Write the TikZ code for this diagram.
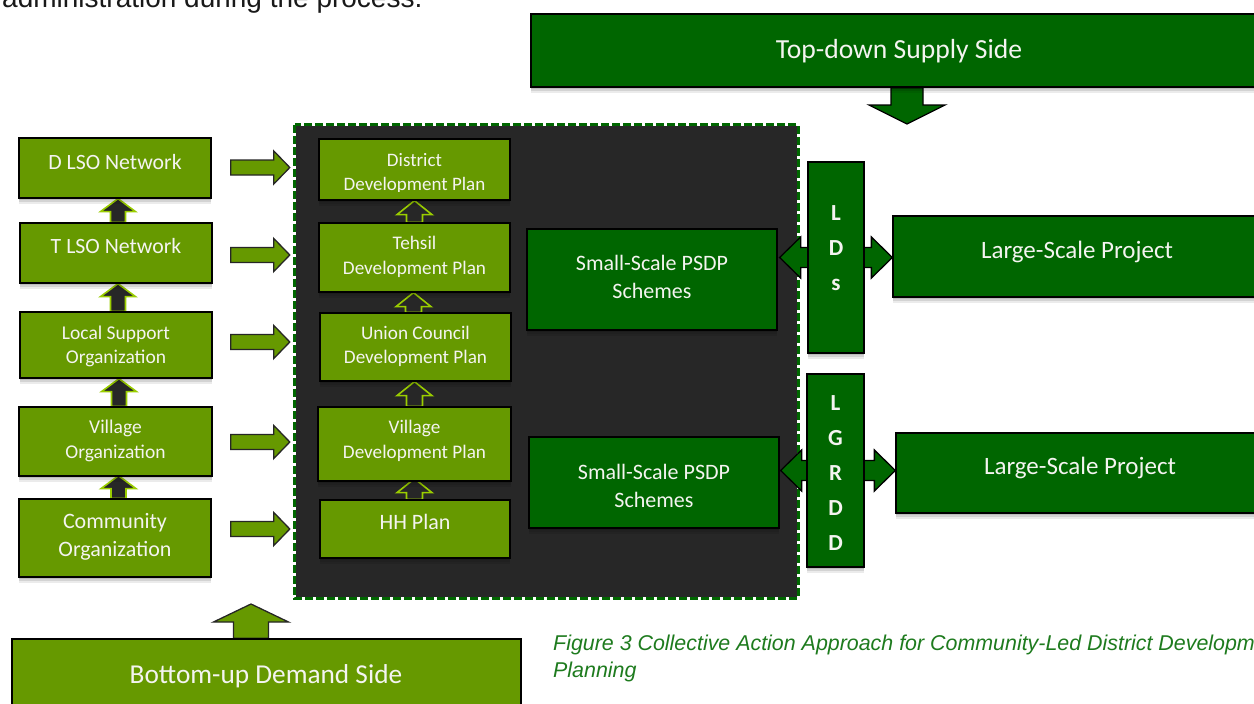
\documentclass[tikz,border=0pt]{standalone}
\usepackage{fontspec}
\setmainfont{Carlito}
\newfontfamily\arialf{Liberation Sans}
\usetikzlibrary{calc}
\definecolor{cOlv}{HTML}{669900}
\definecolor{cDkG}{HTML}{006600}
\definecolor{cPnl}{HTML}{272727}
\definecolor{cLim}{HTML}{9ACD00}
\definecolor{cCap}{HTML}{1E7B1E}
\definecolor{cTxt}{HTML}{F4F4F0}
\newcommand\fs[2]{\fontsize{#1}{#2}\selectfont}
% block arrows: #1 style, #2 base/tail, #3 tip, #4 half shaft, #5 half head, #6 head length
\newcommand\upblk[6]{\draw[#1] let \p1=(#2),\p2=(#3) in
  (\x2-#4pt,\y1) -- (\x2-#4pt,\y2-#6pt) -- (\x2-#5pt,\y2-#6pt) -- (\x2,\y2)
  -- (\x2+#5pt,\y2-#6pt) -- (\x2+#4pt,\y2-#6pt) -- (\x2+#4pt,\y1) -- cycle;}
\newcommand\dnblk[6]{\draw[#1] let \p1=(#2),\p2=(#3) in
  (\x2-#4pt,\y1) -- (\x2-#4pt,\y2+#6pt) -- (\x2-#5pt,\y2+#6pt) -- (\x2,\y2)
  -- (\x2+#5pt,\y2+#6pt) -- (\x2+#4pt,\y2+#6pt) -- (\x2+#4pt,\y1) -- cycle;}
\newcommand\rtblk[6]{\draw[#1] let \p1=(#2),\p2=(#3) in
  (\x1,\y2+#4pt) -- (\x2-#6pt,\y2+#4pt) -- (\x2-#6pt,\y2+#5pt) -- (\x2,\y2)
  -- (\x2-#6pt,\y2-#5pt) -- (\x2-#6pt,\y2-#4pt) -- (\x1,\y2-#4pt) -- cycle;}
\newcommand\dblblk[6]{\draw[#1] let \p1=(#2),\p2=(#3) in
  (\x1,\y1) -- (\x1+#6pt,\y1+#5pt) -- (\x1+#6pt,\y1+#4pt) -- (\x2-#6pt,\y1+#4pt)
  -- (\x2-#6pt,\y1+#5pt) -- (\x2,\y1) -- (\x2-#6pt,\y1-#5pt) -- (\x2-#6pt,\y1-#4pt)
  -- (\x1+#6pt,\y1-#4pt) -- (\x1+#6pt,\y1-#5pt) -- cycle;}
\pgfdeclarelayer{top}
\pgfsetlayers{main,top}
\begin{document}
\begin{tikzpicture}[x=1pt,y=-1pt,
  shd/.style={preaction={fill=black,fill opacity=0.10,draw=none,transform canvas={yshift=-2pt}},
              preaction={fill=black,fill opacity=0.10,draw=none,transform canvas={yshift=-4pt}},
              preaction={fill=black,fill opacity=0.08,draw=none,transform canvas={yshift=-6pt}}},
  obox/.style={draw=black,line width=1.3pt,fill=cOlv,inner sep=0pt,shd},
  gbox/.style={draw=black,line width=1.3pt,fill=cDkG,inner sep=0pt,shd},
  wt/.style={text=cTxt,align=center,inner sep=0pt},
  upa/.style={fill=cPnl,draw=cLim,line width=1.6pt},
  rta/.style={fill=cOlv,draw=black!85,line width=1.3pt},
  dga/.style={fill=cDkG,draw=black,line width=1.3pt},
]
\useasboundingbox (0,0) rectangle (1254,704);
\fill[white] (0,0) rectangle (1254,704);
\clip (0,0) rectangle (1254,704);

% dark panel
\node[fill=cPnl,minimum width=503,minimum height=473,inner sep=0pt] (panel) at (546.5,361.5) {};
\draw[white,line width=3pt] (panel.north west) rectangle (panel.south east);
\draw[cDkG,line width=3pt,dash pattern=on 8pt off 3pt] (panel.north west) rectangle (panel.south east);

% cut-off body text at top
\node[anchor=base west,inner sep=0pt,font=\arialf\fs{28}{32},text=black!90] (toptxt) at (2,7) {administration during the process.};

\begin{pgfonlayer}{top}
% left column
\node[obox,minimum width=192,minimum height=60] (dlso) at (115,168) {};
\node[obox,minimum width=192,minimum height=60] (tlso) at (116,253) {};
\node[obox,minimum width=192,minimum height=66] (lso) at (116,345) {};
\node[obox,minimum width=193,minimum height=69] (vo) at (115.5,441.5) {};
\node[obox,minimum width=192,minimum height=78] (co) at (115,538) {};
\node[wt,font=\fs{21.8}{26}] (dlsot) at (115,162) {D LSO Network};
\node[wt,font=\fs{21.8}{26}] (tlsot) at (116,246) {T LSO Network};
\node[wt,font=\fs{19.5}{24}] (lsot) at (116,346) {Local Support\\Organization};
\node[wt,font=\fs{19.5}{25}] (vot) at (115.5,440.5) {Village\\Organization};
\node[wt,font=\fs{22}{28}] (cot) at (115,537) {Community\\Organization};

% middle column
\node[obox,minimum width=191,minimum height=61] (ddp) at (414.5,169.5) {};
\node[obox,minimum width=191,minimum height=69] (tdp) at (414.5,257.5) {};
\node[obox,minimum width=191,minimum height=68] (ucdp) at (415.5,347) {};
\node[obox,minimum width=193,minimum height=74] (vdp) at (414.5,444) {};
\node[obox,minimum width=190,minimum height=58] (hh) at (415,529) {};
\begin{scope}
\clip (319,139) rectangle (510,191);
\node[wt,font=\fs{19}{23.5}] (ddpt) at (414.5,173.5) {District\\Development Plan};
\end{scope}
\node[wt,font=\fs{19.2}{25}] (tdpt) at (414.5,256.5) {Tehsil\\Development Plan};
\node[wt,font=\fs{19.2}{24}] (ucdpt) at (415.5,346) {Union Council\\Development Plan};
\node[wt,font=\fs{19.2}{25}] (vdpt) at (414.5,440.5) {Village\\Development Plan};
\node[wt,font=\fs{22}{26}] (hht) at (415,522) {HH Plan};

% right side
\node[gbox,minimum width=250,minimum height=101] (ss1) at (652,279.5) {};
\node[gbox,minimum width=250,minimum height=91] (ss2) at (654,482.5) {};
\node[wt,font=\fs{22}{28}] (ss1t) at (652,277) {Small-Scale PSDP\\Schemes};
\node[wt,font=\fs{22}{28}] (ss2t) at (654,485.5) {Small-Scale PSDP\\Schemes};
\node[gbox,minimum width=56,minimum height=191] (lds) at (836,257.5) {};
\node[gbox,minimum width=57,minimum height=193] (lgrdd) at (835.5,470.5) {};
\node[wt,font=\bfseries\fs{23}{35}] (ldst) at (836,248) {L\\D\\s};
\node[wt,font=\bfseries\fs{23}{35}] (lgrddt) at (835.5,473) {L\\G\\R\\D\\D};
\node[gbox,minimum width=369,minimum height=81] (lp1) at (1077.5,256.5) {};
\node[gbox,minimum width=366,minimum height=80] (lp2) at (1079,473) {};
\node[wt,font=\fs{25}{30}] (lp1t) at (1077,252) {Large-Scale Project};
\node[wt,font=\fs{25}{30}] (lp2t) at (1080,468) {Large-Scale Project};

% top and bottom banners
\node[gbox,minimum width=731,minimum height=73] (td) at (896.5,50.5) {};
\node[wt,font=\fs{27.6}{30}] (tdt) at (899,51) {Top-down Supply Side};
\node[obox,minimum width=509,minimum height=73] (bu) at (266.5,675.5) {};
\node[wt,font=\fs{27.3}{30}] (but) at (266,676) {Bottom-up Demand Side};
\end{pgfonlayer}
\coordinate (tdtip) at (907,124);
\coordinate (butip) at (251,604);

% caption
\node[anchor=base west,inner sep=0pt,text=cCap,font=\arialf\itshape\fs{21.4}{24}] (cap1) at (553,650) {Figure 3 Collective Action Approach for Community-Led District Developm};
\node[anchor=base west,inner sep=0pt,text=cCap,font=\arialf\itshape\fs{21.4}{24}] (cap2) at (553,677) {Planning};

% block arrows (behind boxes, above panel)
\upblk{upa}{tlso.north}{$(dlso.south)+(3,0)$}{7.5}{17.5}{13}
\upblk{upa}{lso.north}{$(tlso.south)+(2,0)$}{7.5}{17.5}{13}
\upblk{upa}{vo.north}{$(lso.south)+(3,0)$}{7.5}{17.5}{13}
\upblk{upa}{co.north}{$(vo.south)+(3,-1)$}{7.5}{17.5}{13}
\upblk{upa}{tdp.north}{ddp.south}{8}{17.5}{14}
\upblk{upa}{ucdp.north}{$(tdp.south)+(-1,0)$}{8}{17.5}{14}
\upblk{upa}{vdp.north}{$(ucdp.south)+(-1,0)$}{8}{17.5}{14}
\upblk{upa}{hh.north}{$(vdp.south)+(0,-3)$}{8}{17.5}{14}
\rtblk{rta}{$(dlso.east)+(19,0)$}{$(panel.west|-dlso.east)+(-5,-0.5)$}{7.5}{16.5}{16}
\rtblk{rta}{$(tlso.east)+(18,0)$}{$(panel.west|-tlso.east)+(-5,2)$}{7.5}{16.5}{16}
\rtblk{rta}{$(lso.east)+(18,0)$}{$(panel.west|-lso.east)+(-5,-3)$}{7.5}{16.5}{16}
\rtblk{rta}{$(vo.east)+(18,0)$}{$(panel.west|-vo.east)+(-5,0.5)$}{7.5}{16.5}{16}
\rtblk{rta}{$(co.east)+(19,0)$}{$(panel.west|-co.east)+(-5,-9)$}{7.5}{16.5}{16}
\dblblk{dga}{$(ss1.east|-lds.center)+(2,0)$}{lp1.west|-lds.center}{10}{20.5}{21}
\dblblk{dga}{$(ss2.east|-lgrdd.center)+(1,0)$}{lp2.west|-lgrdd.center}{10}{20.5}{21}
\dnblk{dga}{td.south}{tdtip}{16}{38}{19}
\upblk{rta}{bu.north}{butip}{17.5}{37.5}{18}
\end{tikzpicture}
\end{document}
